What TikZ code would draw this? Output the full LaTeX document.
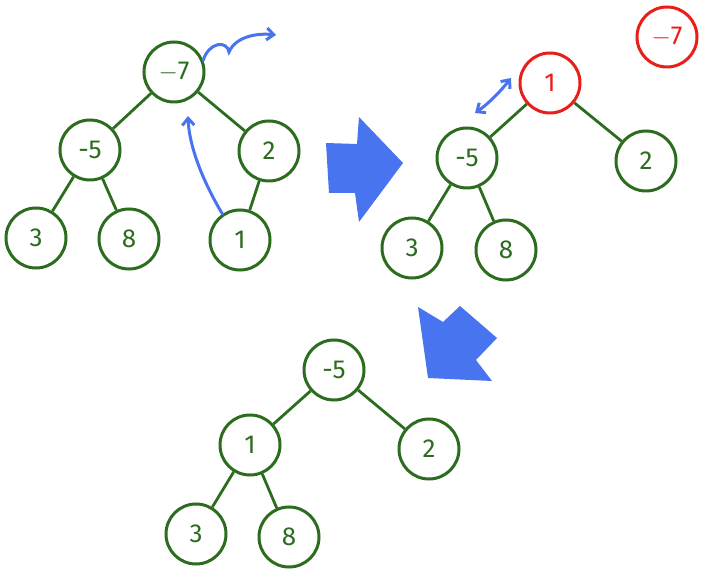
\documentclass[tikz,border=0pt]{standalone}
\usepackage{fontspec}
\setmainfont{Fira Sans}
\usetikzlibrary{arrows.meta}
\definecolor{tgreen}{RGB}{44,108,30}
\definecolor{tred}{RGB}{232,30,26}
\definecolor{tblue}{RGB}{72,116,240}
\begin{document}
\begin{tikzpicture}[x=1pt,y=-1pt,
  nd/.style={circle,draw=tgreen,line width=3pt,minimum size=60pt,inner sep=0pt,text=tgreen,font=\fontsize{26}{28}\selectfont\mdseries},
  rd/.style={nd,draw=tred,text=tred},
  edge/.style={draw=tgreen,line width=2.8pt},
  barrow/.style={draw=tblue,line width=3pt,line cap=round,-{Straight Barb[length=7pt,width=12pt]}},
  bigarrow/.style={fill=tblue,draw=none}]
\useasboundingbox (0,0) rectangle (710,577);
% tree 1
\node[nd] (a7) at (174,72) {$-$7};
\node[nd] (a5) at (90,150) {-5};
\node[nd] (a2) at (269,151) {2};
\node[nd] (a3) at (36,238) {3};
\node[nd] (a8) at (129,239) {8};
\node[nd] (a1) at (240,240) {1};
\draw[edge] (a7) -- (a5);
\draw[edge] (a7) -- (a2);
\draw[edge] (a5) -- (a3);
\draw[edge] (a5) -- (a8);
\draw[edge] (a2) -- (a1);
\coordinate (up1) at (188,116);
\draw[barrow] (a1.124) .. controls (202,180) and (189,145) .. (up1);
\coordinate (out1) at (276,35);
\draw[barrow] (a7.22) .. controls (209,42) and (227,40) .. (229,52)
  .. controls (236,36) and (258,33) .. (out1);
% big arrow 1
\path[bigarrow] (326,143) -- (357,144) -- (359,117) -- (403,163) -- (359,222) -- (355,193) -- (329,193) -- cycle;
% tree 2
\node[rd] (b1) at (550,83) {1};
\node[rd] (b7) at (667,37) {$-$7};
\node[nd] (b5) at (467,158) {-5};
\node[nd] (b2) at (646,161) {2};
\node[nd] (b3) at (412,248) {3};
\node[nd] (b8) at (506,250) {8};
\draw[edge] (b1) -- (b5);
\draw[edge] (b1) -- (b2);
\draw[edge] (b5) -- (b3);
\draw[edge] (b5) -- (b8);
\coordinate (sw1) at (475,113);
\coordinate (ne1) at (511,78);
\draw[barrow,{Straight Barb[length=7pt,width=12pt]}-{Straight Barb[length=7pt,width=12pt]}] (sw1) .. controls (488,104) and (500,92) .. (ne1);
% big arrow 2
\path[bigarrow] (418,307) -- (443,322) -- (460,306) -- (497,338) -- (476,360) -- (492,381) -- (428,378) -- cycle;
% tree 3
\node[nd] (c5) at (334,370) {-5};
\node[nd] (c1) at (250,445) {1};
\node[nd] (c2) at (429,449) {2};
\node[nd] (c3) at (196,534) {3};
\node[nd] (c8) at (289,537) {8};
\draw[edge] (c5) -- (c1);
\draw[edge] (c5) -- (c2);
\draw[edge] (c1) -- (c3);
\draw[edge] (c1) -- (c8);
\end{tikzpicture}
\end{document}
